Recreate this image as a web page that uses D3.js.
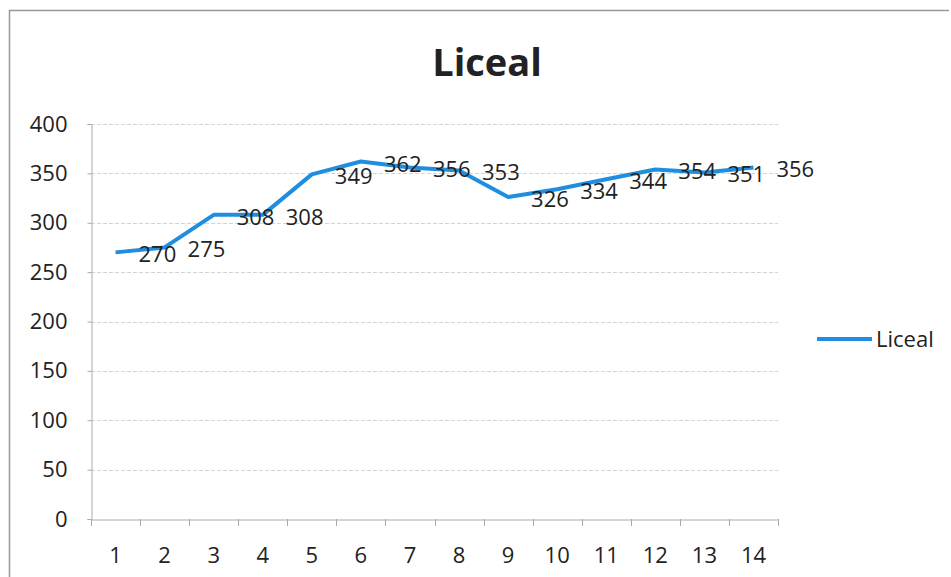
<!DOCTYPE html>
<html>
<head>
<script src="https://d3js.org/d3.v7.min.js"></script>
<style>
  body { margin: 0; background: #fff; }
  text { font-family: "Open Sans", sans-serif; fill: #222; }
</style>
</head>
<body>
<script>

var w = 951;
var h = 577;

var categories = ["1","2","3","4","5","6","7","8","9","10","11","12","13","14"];
var liceal = [270, 275, 308, 308, 349, 362, 356, 353, 326, 334, 344, 354, 351, 356];
var yTicks = [0, 50, 100, 150, 200, 250, 300, 350, 400];

var seriesName = "Liceal";
var lineColor = "#1f8ee0";

var plotLeft = 91, plotRight = 778, plotTop = 124, plotBottom = 519;

var svg = d3.select("body").append("svg").attr("width", w).attr("height", h);

// chart border (cut off at the right/bottom in the scan)
svg.append("path")
  .attr("d", "M9.5," + h + "V10.5H949")
  .attr("fill", "none")
  .attr("stroke", "#999")
  .attr("stroke-width", 1.5);

var x = d3.scaleBand().domain(categories).range([plotLeft, plotRight]);
var y = d3.scaleLinear().domain([0, 400]).range([plotBottom, plotTop]);

// gridlines
svg.append("g").selectAll("line")
  .data(yTicks.filter(function(d){ return d > 0; }))
  .enter().append("line")
  .attr("x1", plotLeft).attr("x2", plotRight)
  .attr("y1", function(d){ return Math.round(y(d)) + 0.5; })
  .attr("y2", function(d){ return Math.round(y(d)) + 0.5; })
  .attr("stroke", "#d4d4d4")
  .attr("stroke-dasharray", "4,2");

// y axis
var yAxis = svg.append("g")
  .attr("transform", "translate(" + (plotLeft + 0.5) + ",0)")
  .call(d3.axisLeft(y).tickValues(yTicks).tickSize(4).tickPadding(20));
yAxis.select(".domain").attr("stroke", "#aaa");
yAxis.selectAll(".tick line").attr("stroke", "#aaa");
yAxis.selectAll("text").attr("font-size", "22px").attr("fill", "#222");

// x axis
var xAxis = svg.append("g")
  .attr("transform", "translate(0," + (plotBottom + 0.5) + ")")
  .call(d3.axisBottom(x).tickSize(0).tickPadding(28));
xAxis.select(".domain").attr("stroke", "#aaa");
xAxis.selectAll("text").attr("font-size", "22px").attr("fill", "#222");

svg.append("g").selectAll("line")
  .data(categories.concat(["end"]))
  .enter().append("line")
  .attr("x1", function(d, i){ return Math.round(plotLeft + i * x.step()) + 0.5; })
  .attr("x2", function(d, i){ return Math.round(plotLeft + i * x.step()) + 0.5; })
  .attr("y1", plotBottom).attr("y2", plotBottom + 7)
  .attr("stroke", "#aaa");

// line
var line = d3.line()
  .x(function(d, i){ return x(categories[i]) + x.bandwidth() / 2; })
  .y(function(d){ return y(d); });

svg.append("path")
  .datum(liceal)
  .attr("d", line)
  .attr("fill", "none")
  .attr("stroke", lineColor)
  .attr("stroke-width", 4)
  .attr("stroke-linejoin", "round");

// data labels (placed to the right of each point)
svg.append("g").selectAll("text")
  .data(liceal)
  .enter().append("text")
  .text(function(d){ return d; })
  .attr("x", function(d, i){ return x(categories[i]) + x.bandwidth() / 2 + 23; })
  .attr("y", function(d){ return y(d) + 10; })
  .attr("font-size", "22px")
  .attr("text-anchor", "start");

// title
svg.append("text")
  .text(seriesName)
  .attr("x", 487).attr("y", 76)
  .attr("text-anchor", "middle")
  .attr("font-size", "38px")
  .attr("font-weight", "bold")
  .attr("fill", "#2b2b2b");

// legend
svg.append("line")
  .attr("x1", 817).attr("x2", 872)
  .attr("y1", 339).attr("y2", 339)
  .attr("stroke", lineColor)
  .attr("stroke-width", 4);
svg.append("text")
  .text(seriesName)
  .attr("x", 876).attr("y", 347)
  .attr("font-size", "22px");

</script>
</body>
</html>
